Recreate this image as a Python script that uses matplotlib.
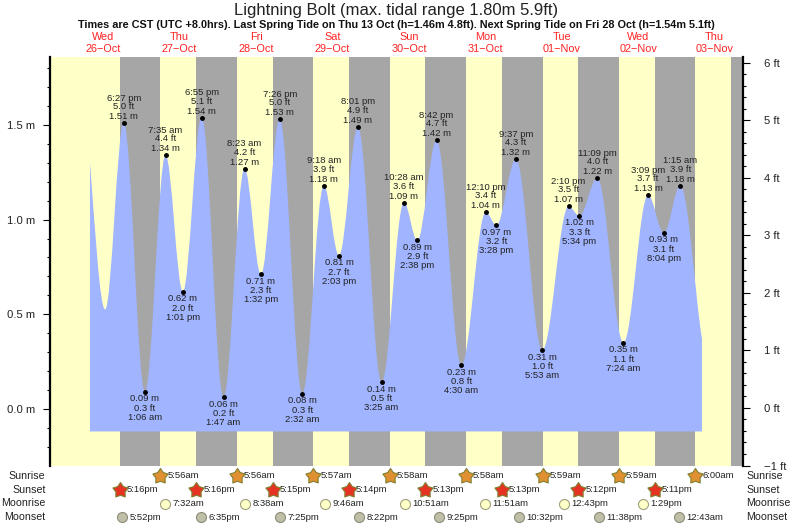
import matplotlib
matplotlib.use("Agg")
import matplotlib.pyplot as plt
import numpy as np
from matplotlib.markers import MarkerStyle
from matplotlib.patches import PathPatch
from matplotlib.path import Path
from matplotlib.transforms import blended_transform_factory

plt.rcParams['font.family'] = ['Liberation Sans', 'DejaVu Sans']

title = "Lightning Bolt (max. tidal range 1.80m 5.9ft)"
subtitle = ("Times are CST (UTC +8.0hrs). Last Spring Tide on Thu 13 Oct (h=1.46m 4.8ft). "
            "Next Spring Tide on Fri 28 Oct (h=1.54m 5.1ft)")
day_names = ["Wed", "Thu", "Fri", "Sat", "Sun", "Mon", "Tue", "Wed", "Thu"]
day_dates = ["26-Oct", "27-Oct", "28-Oct", "29-Oct", "30-Oct", "31-Oct", "01-Nov", "02-Nov", "03-Nov"]

# day index counted from Wed 26 Oct
tide_days = [0, 1, 1, 1, 1, 2, 2, 2, 2, 3, 3, 3, 3, 4, 4, 4, 4, 5, 5, 5, 5, 6, 6, 6, 6, 7, 7, 7, 8]
tide_clock = ["6:27 pm", "1:06 am", "7:35 am", "1:01 pm", "6:55 pm", "1:47 am", "8:23 am", "1:32 pm",
              "7:26 pm", "2:32 am", "9:18 am", "2:03 pm", "8:01 pm", "3:25 am", "10:28 am", "2:38 pm",
              "8:42 pm", "4:30 am", "12:10 pm", "3:28 pm", "9:37 pm", "5:53 am", "2:10 pm", "5:34 pm",
              "11:09 pm", "7:24 am", "3:09 pm", "8:04 pm", "1:15 am"]
tide_m = [1.51, 0.09, 1.34, 0.62, 1.54, 0.06, 1.27, 0.71, 1.53, 0.08, 1.18, 0.81, 1.49, 0.14, 1.09,
          0.89, 1.42, 0.23, 1.04, 0.97, 1.32, 0.31, 1.07, 1.02, 1.22, 0.35, 1.13, 0.93, 1.18]
tide_ft = [5.0, 0.3, 4.4, 2.0, 5.1, 0.2, 4.2, 2.3, 5.0, 0.3, 3.9, 2.7, 4.9, 0.5, 3.6,
           2.9, 4.7, 0.8, 3.4, 3.2, 4.3, 1.0, 3.5, 3.3, 4.0, 1.1, 3.7, 3.1, 3.9]

# unlabelled ends of the curve (hours, metres)
curve_start = [(7.85, 1.30), (12.6, 0.525)]
curve_end = (200.05, 0.37)
tide_floor = -0.12

sunrise_days = [1, 2, 3, 4, 5, 6, 7, 8]
sunrise_clock = ["5:56am", "5:56am", "5:57am", "5:58am", "5:58am", "5:59am", "5:59am", "6:00am"]
sunset_days = [0, 1, 2, 3, 4, 5, 6, 7, 8]
sunset_clock = ["5:16pm", "5:16pm", "5:15pm", "5:14pm", "5:13pm", "5:13pm", "5:12pm", "5:11pm", "5:11pm"]
moonrise_days = [1, 2, 3, 4, 5, 6, 7]
moonrise_clock = ["7:32am", "8:38am", "9:46am", "10:51am", "11:51am", "12:43pm", "1:29pm"]
moonset_days = [0, 1, 2, 3, 4, 5, 6, 8]
moonset_clock = ["5:52pm", "6:35pm", "7:25pm", "8:22pm", "9:25pm", "10:32pm", "11:38pm", "12:43am"]

W, H = 793, 525
YEL, GREY, BLUE = "#ffffc8", "#a6a6a6", "#a0b4ff"
TXT = "#222222"


def to_hours(day, clock):
    c = clock.replace(" ", "")
    hh, mm = c[:-2].split(":")
    hour = int(hh) % 12 + int(mm) / 60
    if c.endswith("pm"):
        hour += 12
    return day * 24 + hour


fig = plt.figure(figsize=(W / 100, H / 100), dpi=100)
ax = fig.add_axes([49.5 / W, 1 - 465.5 / H, (742.7 - 49.5) / W, (465.5 - 57) / H])
ax.set_xlim(-4.87, 212.85)
ax.set_ylim(-0.30, 1.86)
ax.set_facecolor(YEL)

# night bands
sunrise_h = [to_hours(d, c) for d, c in zip(sunrise_days, sunrise_clock)]
sunset_h = [to_hours(d, c) for d, c in zip(sunset_days, sunset_clock)]
for s, r in zip(sunset_h, sunrise_h + [240]):
    ax.axvspan(s, r, color=GREY, lw=0, zorder=1)

# tide curve, one bezier per half cycle between the turning points
hours = [to_hours(d, c) for d, c in zip(tide_days, tide_clock)]
pts = curve_start + list(zip(hours, tide_m)) + [curve_end]
verts = [(pts[0][0], tide_floor), pts[0]]
codes = [Path.MOVETO, Path.LINETO]
for i in range(len(pts) - 1):
    (t0, h0), (t1, h1) = pts[i], pts[i + 1]
    dt = t1 - t0
    c1 = (t0 + 0.36 * dt, h0)
    c2 = (t1 - 0.36 * dt, h1)
    if i == 0:
        c1 = (t0 + 0.3 * dt, h0 + 0.4 * (h1 - h0))
    if i == len(pts) - 2:
        c2 = (t0 + 0.7 * dt, h0 + 0.75 * (h1 - h0))
    verts += [c1, c2, (t1, h1)]
    codes += [Path.CURVE4] * 3
verts += [(pts[-1][0], tide_floor), (pts[0][0], tide_floor)]
codes += [Path.LINETO, Path.CLOSEPOLY]
ax.add_patch(PathPatch(Path(verts, codes), facecolor=BLUE, edgecolor="none", zorder=2))

# turning point dots and their labels, highs and lows take turns
ax.plot(hours, tide_m, "o", color="black", ms=2.5, zorder=4, ls="none")
for i, (t, m, ft, c) in enumerate(zip(hours, tide_m, tide_ft, tide_clock)):
    high = i % 2 == 0
    sign = 1 if high else -1
    offs = [6.5, 16.5, 25] if high else [7, 16.5, 25.5]
    for txt, off in zip([f"{m:.2f} m", f"{ft:.1f} ft", c], offs):
        ax.annotate(txt, (t, m), xytext=(0, sign * off * 0.72), textcoords="offset points",
                    ha="center", va="center", fontsize=6.8, color=TXT, zorder=5)

# axes and ticks
for s in ["top", "bottom"]:
    ax.spines[s].set_visible(False)
ax.spines["left"].set_linewidth(1.6)
ax.spines["right"].set_visible(False)
ax.set_xticks([])
ax.set_yticks([0, 0.5, 1.0, 1.5])
ax.set_yticklabels(["0.0 m", "0.5 m", "1.0 m", "1.5 m"], fontsize=8.1, color=TXT)
ax.set_yticks(np.arange(-0.2, 1.85, 0.1), minor=True)
ax.tick_params(axis="y", which="major", length=5, width=0.8, pad=5.5)
ax.tick_params(axis="y", which="minor", length=2.5, width=0.8)

ax2 = ax.twinx()
ax2.set_ylim(-0.30 * 3.2808, 1.86 * 3.2808)
for s in ["top", "bottom", "left"]:
    ax2.spines[s].set_visible(False)
ax2.spines["right"].set_linewidth(1.6)
ax2.set_yticks(range(-1, 7))
ax2.set_yticklabels(["\u22121 ft", "0 ft", "1 ft", "2 ft", "3 ft", "4 ft", "5 ft", "6 ft"],
                    fontsize=8.1, color=TXT)
ax2.set_yticks(np.arange(-1, 6.01, 0.2), minor=True)
ax2.tick_params(axis="y", which="major", length=5, width=0.8, pad=10.5)
ax2.tick_params(axis="y", which="minor", length=2.5, width=0.8)

# headings
fig.text(396 / W, 1 - 10 / H, title, ha="center", va="center", fontsize=12.0, color=TXT)
fig.text(396.5 / W, 1 - 25.5 / H, subtitle, ha="center", va="center", fontsize=7.87,
         fontweight="bold", color="#111111")
tr = blended_transform_factory(ax.transData, fig.transFigure)
for i, (n, d) in enumerate(zip(day_names, day_dates)):
    x = i * 24 + 12
    ax.text(x, 1 - 37 / H, n, transform=tr, ha="center", va="center", fontsize=7.8,
            color="#ff2222", clip_on=False)
    ax.text(x, 1 - 49.5 / H, d.replace("-", "\u2212"), transform=tr, ha="center", va="center",
            fontsize=7.8, color="#ff2222", clip_on=False)

# sun and moon rows under the plot
fat_star = MarkerStyle(Path.unit_regular_star(5, innerCircle=0.6))
rows = [
    ("Sunrise", 476, sunrise_days, sunrise_clock, fat_star, "#e09030", "#808030", 11.5, 2.2),
    ("Sunset", 490, sunset_days[:8], sunset_clock[:8], fat_star, "#e63222", "#808030", 11.5, 2.2),
    ("Moonrise", 503.5, moonrise_days, moonrise_clock, "o", YEL, "#a0a080", 7.2, 2.2),
    ("Moonset", 517, moonset_days, moonset_clock, "o", "#c0c0a8", "#8c8c78", 7.2, 2.5),
]
for name, y, days, clocks, mk, fc, ec, ms, gap in rows:
    fy = 1 - y / H
    fig.text(45.5 / W, fy, name, ha="right", va="center", fontsize=7.7, color=TXT)
    fig.text(746.5 / W, fy, name, ha="left", va="center", fontsize=7.7, color=TXT)
    xs = [to_hours(d, c) for d, c in zip(days, clocks)]
    ax.plot(xs, [fy] * len(xs), ls="none", marker=mk, ms=ms, mfc=fc, mec=ec, mew=0.8,
            transform=tr, clip_on=False, zorder=6)
    for x, c in zip(xs, clocks):
        ax.text(x + gap, fy, c, transform=tr, ha="left", va="center", fontsize=6.8,
                color=TXT, clip_on=False)

fig.savefig("out.png", dpi=100)
